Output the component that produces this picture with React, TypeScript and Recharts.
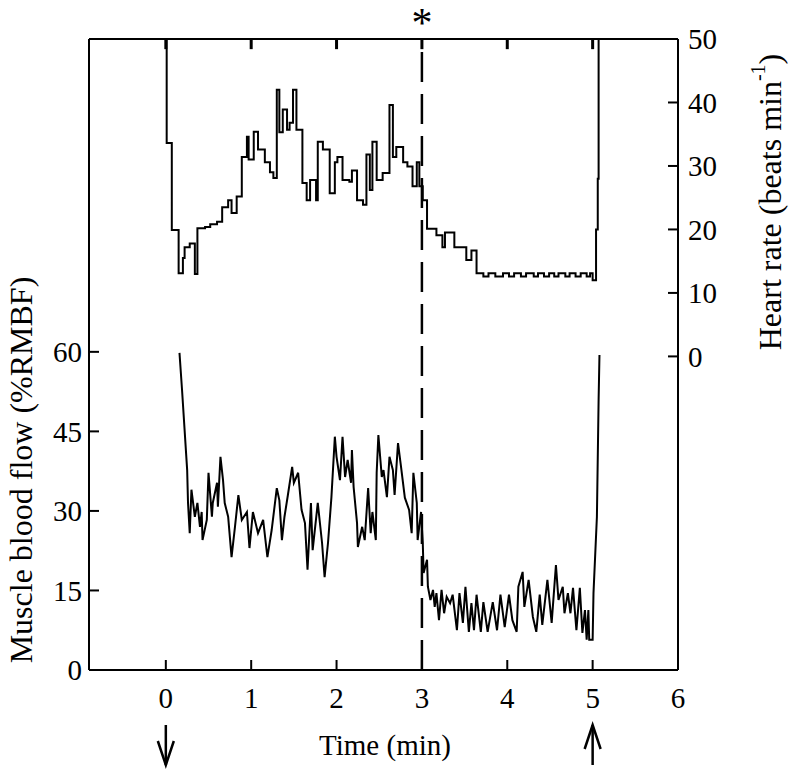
import { ComposedChart, Line, XAxis, YAxis, ReferenceLine } from 'recharts';

// heart rate trace (beats min-1), time in minutes
const hrTime = [
  0, 0.01, 0.07, 0.15, 0.2, 0.22, 0.28, 0.34, 0.37, 0.46, 0.52, 0.6, 0.66, 0.73, 0.77, 0.83, 0.89, 0.95, 0.97,
  1.03, 1.08, 1.16, 1.22, 1.26, 1.3, 1.33, 1.37, 1.42, 1.45, 1.49, 1.53, 1.6, 1.65, 1.69, 1.76, 1.78, 1.84, 1.92,
  1.98, 2.01, 2.07, 2.15, 2.18, 2.24, 2.31, 2.35, 2.39, 2.42, 2.47, 2.54, 2.62, 2.66, 2.7, 2.78, 2.83, 2.89, 2.94,
  2.97, 3.01, 3.06, 3.17, 3.24, 3.27, 3.38, 3.48, 3.52, 3.58, 3.64, 3.72, 3.78, 3.86, 3.95, 4.02, 4.08, 4.16, 4.22,
  4.31, 4.36, 4.43, 4.49, 4.55, 4.6, 4.68, 4.73, 4.8, 4.86, 4.93, 4.97, 5.0, 5.04, 5.06, 5.07,
];
const hrValues = [
  50, 33.6, 19.9, 13.1, 15.5, 17.2, 17.8, 13.0, 20.2, 20.4, 20.8, 21.2, 23.5, 24.6, 22.6, 25.2, 31.4, 34.6, 31.0,
  35.4, 32.6, 30.6, 29.0, 28.1, 42.0, 35.3, 38.9, 35.7, 36.8, 42.0, 35.7, 27.3, 24.6, 27.8, 24.6, 33.8, 32.6, 25.7,
  30.6, 31.4, 27.8, 27.5, 29.3, 24.6, 23.9, 31.8, 26.2, 33.8, 27.8, 28.9, 39.6, 31.4, 33.0, 30.6, 29.9, 26.8, 30.6,
  26.8, 24.6, 20.1, 19.1, 17.2, 19.5, 17.2, 17.2, 15.2, 16.7, 13.1, 12.6, 13.1, 12.6, 13.1, 12.6, 13.1, 12.6, 13.1,
  12.6, 13.1, 12.6, 13.1, 12.6, 13.1, 12.6, 13.1, 12.6, 13.1, 12.6, 13.1, 12.0, 20.0, 28.0, 50,
];

// muscle blood flow trace (%RMBF)
const mbfTime = [
  0.16, 0.19, 0.25, 0.26, 0.28, 0.3, 0.34, 0.37, 0.4, 0.42, 0.43, 0.48, 0.5, 0.54, 0.55, 0.6, 0.61, 0.64, 0.67,
  0.69, 0.73, 0.77, 0.81, 0.85, 0.89, 0.95, 0.98, 1.02, 1.08, 1.14, 1.19, 1.24, 1.3, 1.33, 1.36, 1.39, 1.43, 1.48,
  1.5, 1.55, 1.59, 1.63, 1.66, 1.7, 1.72, 1.78, 1.83, 1.86, 1.9, 1.94, 1.98, 2.0, 2.04, 2.07, 2.1, 2.13, 2.17, 2.18,
  2.2, 2.24, 2.25, 2.3, 2.33, 2.37, 2.4, 2.42, 2.46, 2.47, 2.49, 2.53, 2.55, 2.59, 2.62, 2.66, 2.68, 2.72, 2.75,
  2.8, 2.85, 2.88, 2.9, 2.94, 2.95, 2.99, 3.01, 3.02, 3.06, 3.07, 3.1, 3.13, 3.15, 3.17, 3.2, 3.23, 3.26, 3.29,
  3.33, 3.36, 3.41, 3.44, 3.48, 3.51, 3.55, 3.58, 3.61, 3.64, 3.69, 3.72, 3.77, 3.83, 3.88, 3.92, 3.97, 4.02,
  4.06, 4.11, 4.13, 4.18, 4.2, 4.25, 4.3, 4.34, 4.38, 4.41, 4.47, 4.52, 4.57, 4.6, 4.65, 4.67, 4.71, 4.74, 4.77,
  4.81, 4.85, 4.88, 4.91, 4.93, 4.95, 4.96, 5.0, 5.01, 5.05, 5.07, 5.08,
];
const mbfValues = [
  59.8, 52.8, 37.7, 31.5, 25.8, 34, 28.9, 31.5, 27, 29.8, 24.5, 28.3, 37.2, 28.9, 31.5, 35.3, 30.8, 40.2, 35.8,
  31.5, 28.9, 21.3, 27, 33, 28.3, 29.8, 23, 29.8, 25.8, 28.3, 21.3, 26.4, 34.3, 32, 24.5, 28.9, 33, 38.3,
  35.3, 37.2, 30.2, 27.7, 18.9, 31.5, 22.6, 31.5, 24, 17.5, 24, 32.6, 44, 40.2, 35.8, 44, 36.4, 39.6, 35.3, 41.5,
  34.5, 27.7, 23.2, 27, 24.5, 34.3, 25.8, 29.8, 24.5, 37.2, 44.3, 36.4, 37.7, 32.6, 40.2, 37.7, 33, 42.8, 39,
  32.5, 30.2, 25.8, 37.2, 31.5, 24.5, 29.8, 24, 18.3, 20.8, 15.7, 13.2, 15.1, 11.9, 14.5, 9.4, 15.1, 10.7, 13.8,
  12.6, 14.2, 7.5, 14.5, 8.9, 15.7, 7.2, 12.6, 7.5, 14.2, 7.2, 12.8, 7.2, 12.8, 7.5, 14.2, 8.1, 14.2,
  9.4, 7.2, 15.7, 18.5, 11.9, 17, 10, 7.2, 14.2, 8.5, 17, 8.9, 19.8, 13.2, 15.7, 10.7, 14.5, 10.7, 15.5,
  7.5, 15.5, 7, 11.3, 5.7, 11.3, 5.7, 5.7, 14.5, 28.9, 51, 59.4,
];

const timeTicks = [0, 1, 2, 3, 4, 5, 6];
const topTicks = [0, 1, 2, 3, 4, 5];
const mbfTicks = [0, 15, 30, 45, 60];
const hrTicks = [0, 10, 20, 30, 40, 50];

const hrData = hrTime.map((t, i) => ({ t, hr: hrValues[i] }));
const mbfData = mbfTime.map((t, i) => ({ t, mbf: mbfValues[i] }));

const FONT = '"Liberation Serif", "DejaVu Serif", serif';
const tickStyle = { fontSize: 29, fill: '#000', fontFamily: FONT };

function Arrow({ viewBox, up }: any) {
  const x = viewBox.x;
  const top = viewBox.y + viewBox.height + 55;
  const bottom = top + 40;
  const head = up ? `M${x - 8},${top + 24} L${x},${top} L${x + 8},${top + 24}` : `M${x - 8},${bottom - 24} L${x},${bottom} L${x + 8},${bottom - 24}`;
  return (
    <g stroke="#000" strokeWidth={2.5} fill="none">
      <line x1={x} y1={top} x2={x} y2={bottom} />
      <path d={head} />
    </g>
  );
}

export default function App() {
  return (
    <div style={{ position: 'absolute', left: 0, top: 0, background: '#fff' }}>
      <ComposedChart width={800} height={775} margin={{ top: 19, right: 82, bottom: 75, left: 39 }}>
        <XAxis
          xAxisId="b"
          dataKey="t"
          type="number"
          domain={[-0.9, 6]}
          ticks={timeTicks}
          allowDataOverflow
          height={30}
          stroke="#000"
          strokeWidth={2}
          tickSize={-10}
          tickMargin={27}
          tick={tickStyle}
        />
        <XAxis
          xAxisId="t"
          dataKey="t"
          orientation="top"
          type="number"
          domain={[-0.9, 6]}
          allowDataOverflow
          height={20}
          stroke="#000"
          strokeWidth={2}
          tickLine={false}
          tick={false}
        />
        <YAxis
          yAxisId="mbf"
          domain={[0, 119]}
          ticks={mbfTicks}
          allowDataOverflow
          width={50}
          stroke="#000"
          strokeWidth={2}
          tickSize={-10}
          tickMargin={17}
          tick={tickStyle}
        />
        <YAxis
          yAxisId="hr"
          orientation="right"
          domain={[-49.4, 50]}
          ticks={hrTicks}
          allowDataOverflow
          width={40}
          stroke="#000"
          strokeWidth={2}
          tickSize={-10}
          tickMargin={20}
          tick={tickStyle}
        />
        {topTicks.map((t) => (
          <ReferenceLine
            key={`top-${t}`}
            xAxisId="b"
            yAxisId="hr"
            segment={[
              { x: t, y: 50 },
              { x: t, y: 48.4 },
            ]}
            stroke="#000"
            strokeWidth={3}
          />
        ))}
        <ReferenceLine
          xAxisId="b"
          yAxisId="mbf"
          x={3}
          stroke="#000"
          strokeWidth={2.5}
          strokeDasharray="30 12"
          label={(p: any) => (
            <text x={p.viewBox.x} y={p.viewBox.y - 2} textAnchor="middle" fontSize={42} fontFamily={FONT}>
              *
            </text>
          )}
        />
        <ReferenceLine xAxisId="b" yAxisId="mbf" x={0} stroke="none" label={(p: any) => <Arrow viewBox={p.viewBox} />} />
        <ReferenceLine xAxisId="b" yAxisId="mbf" x={5} stroke="none" label={(p: any) => <Arrow viewBox={p.viewBox} up />} />
        <Line
          xAxisId="t"
          yAxisId="hr"
          data={hrData}
          dataKey="hr"
          type="stepAfter"
          stroke="#000"
          strokeWidth={2}
          dot={false}
          isAnimationActive={false}
        />
        <Line
          xAxisId="b"
          yAxisId="mbf"
          data={mbfData}
          dataKey="mbf"
          type="linear"
          stroke="#000"
          strokeWidth={2}
          dot={false}
          isAnimationActive={false}
        />
        <text x={385} y={755} textAnchor="middle" fontSize={29} fontFamily={FONT}>
          Time (min)
        </text>
        <text
          x={21}
          y={470}
          transform="rotate(-90 21 470)"
          textAnchor="middle"
          dominantBaseline="central"
          fontSize={32}
          fontFamily={FONT}
        >
          Muscle blood flow (%RMBF)
        </text>
        <text
          x={770}
          y={202}
          transform="rotate(-90 770 202)"
          textAnchor="middle"
          dominantBaseline="central"
          fontSize={32}
          fontFamily={FONT}
        >
          Heart rate (beats min<tspan dy={-12} fontSize={20}>-1</tspan>
          <tspan dy={12}>)</tspan>
        </text>
      </ComposedChart>
    </div>
  );
}
